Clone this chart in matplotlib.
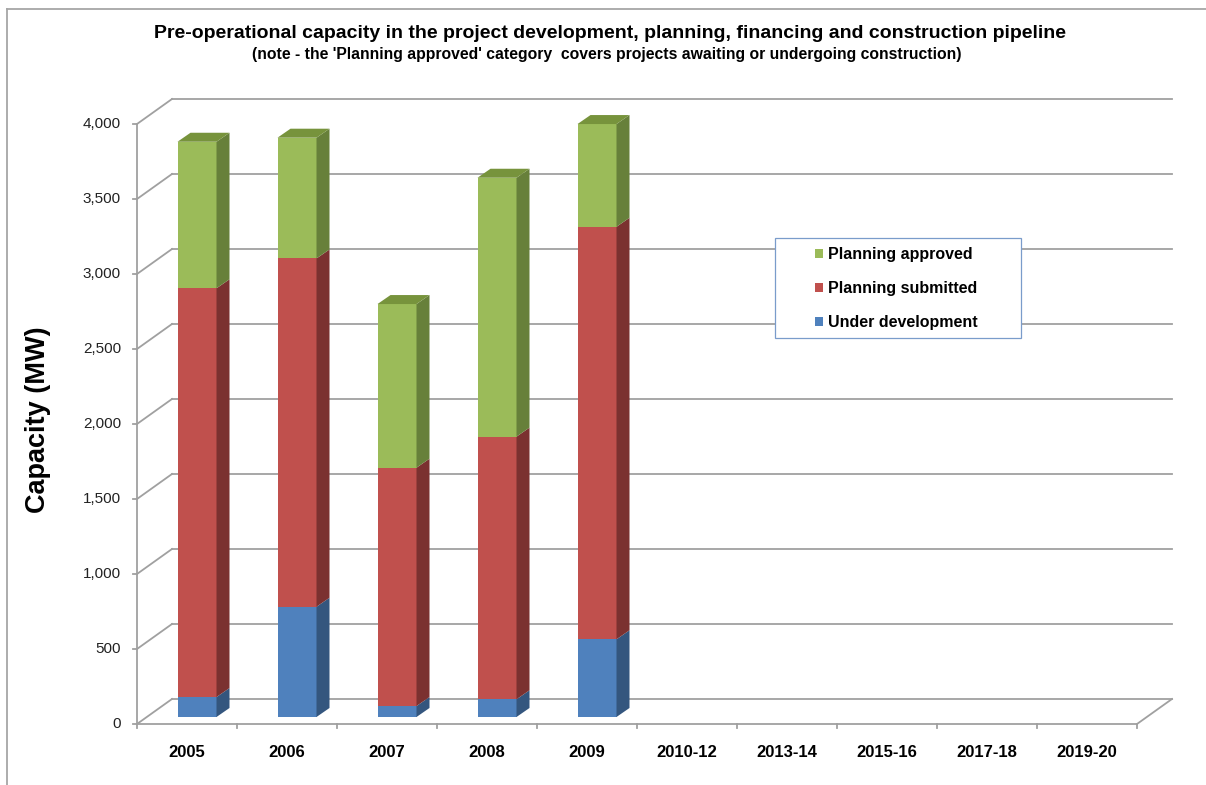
import matplotlib
matplotlib.use("Agg")
import matplotlib.pyplot as plt
from matplotlib.patches import Polygon, Rectangle, Patch

# ---------------------------------------------------------------------------
# data (MW)
# ---------------------------------------------------------------------------
periods = ["2005", "2006", "2007", "2008", "2009",
           "2010-12", "2013-14", "2015-16", "2017-18", "2019-20"]
under_development = [133, 735, 73, 118, 518]
planning_submitted = [2725, 2322, 1589, 1751, 2750]
planning_approved = [977, 805, 1091, 1726, 685]
yticks = [0, 500, 1000, 1500, 2000, 2500, 3000, 3500, 4000]
ytick_labels = ["0", "500", "1,000", "1,500", "2,000", "2,500", "3,000", "3,500", "4,000"]

series = [
    ("Under development", under_development, "#4F81BD", "#34567E", "#416B9E"),
    ("Planning submitted", planning_submitted, "#C0504D", "#7B3130", "#9C3F3C"),
    ("Planning approved", planning_approved, "#9BBB59", "#67803A", "#77933C"),
]

# fake 3-D geometry, in data units (x = category index, y = MW)
DX, DY = 0.35, 166.7          # depth of the floor / side wall
BAR_OFF_X, BAR_OFF_Y = 0.10, 46.7   # bar front face sits a bit into the depth
BAR_DX, BAR_DY = 0.13, 60.0   # bar depth
BAR_W = 0.39
GRID = "#A0A0A0"
FONT = "Liberation Sans"

fig = plt.figure(figsize=(12.06, 7.85), dpi=100)
ax = fig.add_axes([0, 0, 1, 1])
ax.set_xlim(-1.87, 10.19)
ax.set_ylim(-406.7, 4826.7)
ax.axis("off")

n = len(periods)
x_left, x_right = -0.5, n - 0.5

# side wall diagonals + back wall gridlines
for v in yticks:
    ax.plot([x_left, x_left + DX], [v, v + DY], color=GRID, lw=1.3, zorder=1)
    ax.plot([x_left + DX, x_right + DX], [v + DY, v + DY], color=GRID, lw=1.3, zorder=1)
    ax.plot([x_left - 0.04, x_left], [v, v], color=GRID, lw=1.3, zorder=1)

# front axis line and floor
ax.plot([x_left, x_left], [0, yticks[-1]], color=GRID, lw=1.3, zorder=1)
ax.plot([x_left, x_right], [0, 0], color=GRID, lw=1.3, zorder=1)
ax.plot([x_right, x_right + DX], [0, DY], color=GRID, lw=1.3, zorder=1)
for k in range(n + 1):
    ax.plot([x_left + k, x_left + k], [0, -27], color=GRID, lw=1.3, zorder=1)

# stacked 3-D columns
for i in range(len(under_development)):
    base = 0
    x0 = i - BAR_W / 2 + BAR_OFF_X
    for s_idx, (name, vals, front, side, top) in enumerate(series):
        b, t = base, base + vals[i]
        yb, yt = b + BAR_OFF_Y, t + BAR_OFF_Y
        ax.add_patch(Rectangle((x0, yb), BAR_W, yt - yb, facecolor=front,
                               edgecolor="none", zorder=3))
        ax.add_patch(Polygon([(x0 + BAR_W, yb), (x0 + BAR_W + BAR_DX, yb + BAR_DY),
                              (x0 + BAR_W + BAR_DX, yt + BAR_DY), (x0 + BAR_W, yt)],
                             closed=True, facecolor=side, edgecolor="none", zorder=3))
        if s_idx == len(series) - 1:
            ax.add_patch(Polygon([(x0, yt), (x0 + BAR_W, yt),
                                  (x0 + BAR_W + BAR_DX, yt + BAR_DY), (x0 + BAR_DX, yt + BAR_DY)],
                                 closed=True, facecolor=top, edgecolor="none", zorder=3))
        base = t

# tick labels
for v, lab in zip(yticks, ytick_labels):
    ax.text(x_left - 0.16, v, lab, ha="right", va="center", fontsize=11,
            family=FONT, color="#222222")
for k, lab in enumerate(periods):
    ax.text(k, -186.7, lab, ha="center", va="center", fontsize=12,
            family=FONT, weight="bold")

ax.text(-1.49, 2027, "Capacity (MW)", rotation=90, ha="center", va="center",
        fontsize=19.5, family=FONT, weight="bold")

fig.text(0.506, 1 - 33 / 785,
         "Pre-operational capacity in the project development, planning, financing and construction pipeline",
         ha="center", va="center", fontsize=14, family=FONT, weight="bold")
fig.text(0.503, 1 - 54 / 785,
         "(note - the 'Planning approved' category  covers projects awaiting or undergoing construction)",
         ha="center", va="center", fontsize=11.3, family=FONT, weight="bold")

# legend box
fig.patches.append(Rectangle((775 / 1206, 1 - 338 / 785), 246 / 1206, 100 / 785,
                             transform=fig.transFigure, facecolor="white",
                             edgecolor="#7A9CCB", lw=0.9, zorder=5))
handles = [Patch(facecolor=c, edgecolor="none", label=nm)
           for nm, _, c, _, _ in reversed(series)]
leg = fig.legend(handles=handles, loc="upper left",
                 bbox_to_anchor=(815 / 1206, 1 - 247 / 785),
                 frameon=False, borderpad=0, borderaxespad=0,
                 handlelength=0.5, handleheight=0.5, handletextpad=0.3,
                 labelspacing=1.2, prop={"family": FONT, "weight": "bold", "size": 11.5})
leg.set_zorder(6)

# outer border
fig.add_artist(plt.Line2D([7 / 1206, 7 / 1206], [0, 1 - 9 / 785],
                          transform=fig.transFigure, color="#A6A6A6", lw=1.3))
fig.add_artist(plt.Line2D([7 / 1206, 1], [1 - 9 / 785, 1 - 9 / 785],
                          transform=fig.transFigure, color="#A6A6A6", lw=1.3))

fig.savefig("out.png", dpi=100)
